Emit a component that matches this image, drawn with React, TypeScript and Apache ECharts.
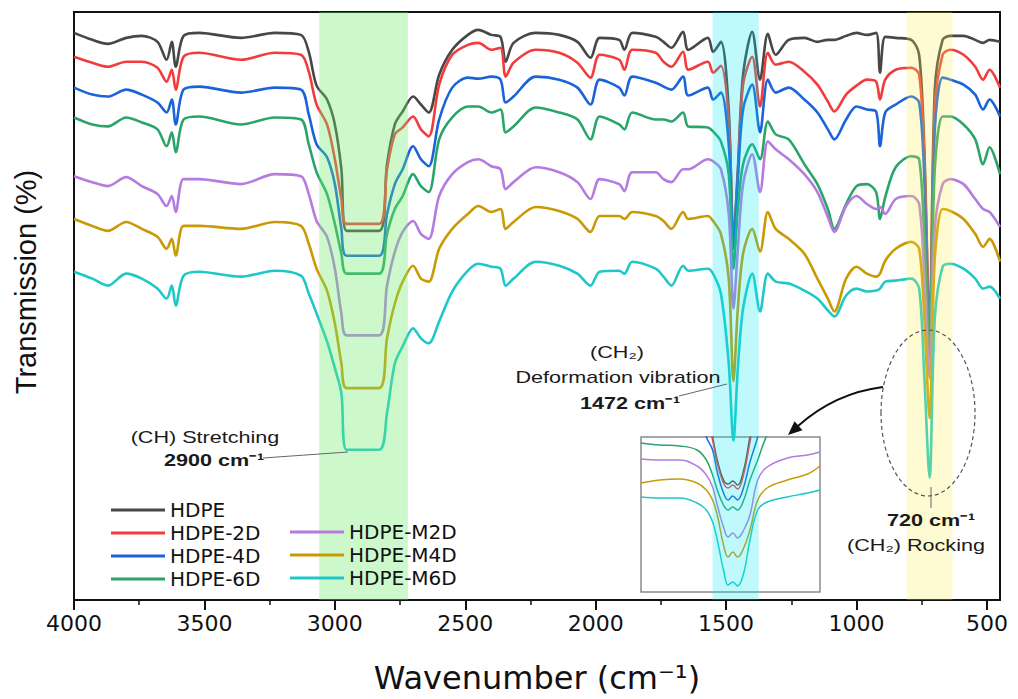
import React, { useEffect, useRef } from "react";
import * as echarts from "echarts";

// Wavenumber grid (cm-1) for the main spectra
const wavenumbers = [
  4000, 3930, 3870, 3800, 3740, 3680, 3645, 3625, 3610, 3580,
  3520, 3360, 3230, 3130, 3100, 3070, 3030, 3000, 2975, 2955,
  2830, 2800, 2770, 2740, 2700, 2670, 2640, 2600, 2550, 2490,
  2450, 2400, 2365, 2345, 2315, 2230, 2140, 2070, 2020, 1985,
  1910, 1890, 1860, 1770, 1740, 1710, 1665, 1645, 1570, 1550,
  1520, 1490, 1472, 1455, 1435, 1400, 1370, 1340, 1310, 1260,
  1200, 1150, 1110, 1085, 1040, 1000, 960, 925, 910, 890,
  850, 790, 760, 740, 720, 700, 670, 640, 590, 545,
  515, 490, 450,
];

// Transmission (arbitrary units, offset-stacked)
const hdpe = [
  570, 563, 559, 565, 567, 561, 543, 561, 536, 567,
  570, 565, 570, 568, 551, 517, 503, 478, 433, 371,
  371, 438, 478, 491, 506, 498, 490, 528, 553, 568,
  573, 568, 566, 541, 560, 570, 568, 561, 545, 565,
  563, 553, 570, 566, 561, 555, 571, 553, 565, 551,
  561, 493, 363, 433, 528, 571, 523, 569, 548, 563,
  565, 561, 563, 563, 567, 570, 568, 570, 530, 566,
  565, 563, 548, 453, 273, 513, 563, 567, 567, 563,
  560, 563, 561,
];
const hdpe2D = [
  546, 540, 536, 541, 541, 535, 521, 533, 513, 546,
  550, 543, 550, 548, 531, 498, 478, 443, 403, 378,
  378, 433, 468, 475, 486, 473, 466, 518, 548, 558,
  560, 553, 555, 526, 540, 553, 550, 540, 525, 548,
  543, 533, 553, 550, 541, 536, 551, 533, 541, 530,
  537, 483, 358, 428, 518, 546, 496, 550, 538, 541,
  531, 518, 501, 491, 508, 517, 523, 521, 503, 523,
  533, 535, 528, 443, 263, 493, 548, 553, 548, 536,
  523, 533, 515,
];
const hdpe4D = [
  515, 508, 506, 513, 508, 500, 490, 503, 478, 513,
  516, 510, 515, 513, 488, 458, 445, 418, 373, 346,
  346, 388, 418, 433, 456, 443, 436, 483, 515, 525,
  524, 526, 523, 500, 506, 526, 523, 515, 498, 523,
  515, 507, 526, 520, 516, 513, 526, 507, 515, 503,
  510, 458, 353, 423, 493, 518, 470, 523, 510, 515,
  503, 490, 473, 463, 483, 496, 493, 491, 456, 490,
  498, 506, 500, 423, 253, 473, 525, 523, 518, 508,
  493, 503, 486,
];
const hdpe6D = [
  485, 478, 476, 485, 480, 473, 456, 470, 450, 483,
  486, 478, 485, 483, 458, 430, 408, 378, 348, 328,
  328, 368, 393, 406, 428, 416, 410, 463, 485, 496,
  496, 490, 493, 470, 476, 495, 490, 483, 463, 486,
  478, 473, 490, 483, 483, 481, 490, 476, 475, 471,
  461, 428, 333, 393, 438, 458, 443, 481, 468, 463,
  438, 418, 393, 373, 398, 416, 418, 410, 383, 405,
  435, 446, 443, 363, 243, 433, 486, 486, 478, 463,
  438, 455, 428,
];
const hdpeM2D = [
  426, 420, 416, 425, 416, 408, 396, 406, 390, 423,
  423, 418, 428, 426, 408, 381, 365, 333, 288, 266,
  266, 316, 350, 370, 381, 368, 363, 406, 428, 440,
  443, 436, 433, 413, 420, 435, 430, 420, 403, 423,
  418, 411, 430, 430, 423, 420, 433, 433, 443, 441,
  433, 388, 293, 353, 418, 448, 410, 461, 453, 443,
  428, 410, 385, 370, 396, 406, 398, 393, 395, 388,
  403, 406, 398, 323, 223, 373, 418, 423, 418, 403,
  393, 390, 375,
];
const hdpeM4D = [
  383, 376, 371, 380, 373, 365, 353, 363, 346, 376,
  376, 373, 380, 376, 358, 333, 311, 278, 238, 213,
  213, 263, 298, 320, 336, 323, 320, 353, 373, 388,
  396, 390, 393, 373, 380, 395, 391, 383, 370, 386,
  386, 383, 390, 386, 381, 373, 390, 383, 386, 381,
  368, 323, 220, 293, 348, 373, 350, 390, 373, 363,
  348, 323, 303, 290, 323, 335, 328, 325, 328, 341,
  353, 360, 353, 283, 183, 343, 393, 391, 383, 368,
  355, 363, 340,
];
const hdpeM6D = [
  330, 323, 316, 328, 323, 313, 303, 316, 296, 326,
  330, 325, 331, 326, 308, 288, 260, 233, 208, 151,
  151, 188, 238, 255, 273, 263, 258, 280, 310, 331,
  338, 335, 333, 316, 323, 340, 336, 328, 316, 330,
  331, 328, 340, 333, 325, 316, 336, 331, 333, 328,
  308, 238, 160, 233, 293, 328, 290, 328, 320, 318,
  311, 303, 291, 285, 306, 313, 310, 311, 313, 320,
  321, 323, 313, 223, 123, 283, 335, 338, 333, 323,
  313, 315, 303,
];

// Inset: magnified 1472 cm-1 region
const insetWavenumbers = [1530, 1518, 1505, 1494, 1488, 1484, 1481, 1477, 1474, 1471, 1468, 1464, 1460, 1455, 1449, 1436, 1423, 1415];
const insetHdpe = [250, 250, 250, 200, 185, 155, 132, 112, 108, 111, 107, 122, 155, 192, 240, 250, 250, 250];
const insetHdpe2D = [245, 245, 245, 195, 180, 152, 129, 109, 104, 107, 103, 118, 150, 187, 235, 245, 245, 245];
const insetHdpe4D = [240, 240, 240, 185, 155, 142, 120, 99, 92, 96, 92, 105, 130, 155, 192, 240, 240, 240];
const insetHdpe6D = [149, 147, 146, 142, 132, 117, 102, 87, 82, 85, 82, 92, 112, 132, 157, 192, 212, 222];
const insetHdpeM2D = [133, 132, 132, 126, 117, 105, 87, 65, 55, 59, 54, 62, 77, 112, 125, 134, 137, 140];
const insetHdpeM4D = [109, 112, 113, 109, 102, 92, 77, 47, 35, 40, 35, 44, 62, 92, 104, 112, 118, 126];
const insetHdpeM6D = [95, 94, 94, 89, 82, 70, 52, 22, 7, 10, 6, 19, 52, 82, 90, 95, 99, 102];

const seriesNames = ["HDPE", "HDPE-2D", "HDPE-4D", "HDPE-6D", "HDPE-M2D", "HDPE-M4D", "HDPE-M6D"];
const seriesColors = ["#474747", "#f23c3c", "#1a63d8", "#2aa56a", "#b57be0", "#c99a06", "#1ec8c8"];
const mainValues = [hdpe, hdpe2D, hdpe4D, hdpe6D, hdpeM2D, hdpeM4D, hdpeM6D];
const insetValues = [insetHdpe, insetHdpe2D, insetHdpe4D, insetHdpe6D, insetHdpeM2D, insetHdpeM4D, insetHdpeM6D];

const legendCol1 = ["HDPE", "HDPE-2D", "HDPE-4D", "HDPE-6D"];
const legendCol2 = ["HDPE-M2D", "HDPE-M4D", "HDPE-M6D"];

const xTickValues = [4000, 3500, 3000, 2500, 2000, 1500, 1000, 500];

// Highlighted bands (cm-1)
const bandRanges = [
  [3060, 2720],
  [1552, 1375],
  [808, 632],
];
const bandColors = ["rgba(110,235,110,0.35)", "rgba(0,230,240,0.25)", "rgba(250,240,80,0.25)"];

const textFont = '"Liberation Sans", Arial, sans-serif';

function label(text: string, x: number, y: number, bold = false) {
  return {
    type: "text",
    x,
    y,
    scaleX: 1.27,
    z: 30,
    style: {
      text,
      font: `${bold ? "bold " : ""}17px ${textFont}`,
      fill: "#1a1a1a",
      textAlign: "center",
      textVerticalAlign: "middle",
      align: "center",
      verticalAlign: "middle",
    },
  };
}

function leader(x1: number, y1: number, x2: number, y2: number) {
  return {
    type: "line",
    z: 30,
    shape: { x1, y1, x2, y2 },
    style: { stroke: "#666", lineWidth: 1 },
  };
}

export default function App() {
  const ref = useRef<HTMLDivElement>(null);

  useEffect(() => {
    if (!ref.current) return;
    const chart = echarts.init(ref.current, null, { renderer: "svg" });

    const mainSeries = seriesNames.map((name, i) => ({
      name,
      type: "line",
      xAxisIndex: 0,
      yAxisIndex: 0,
      data: wavenumbers.map((w, k) => [w, mainValues[i][k]]),
      smooth: 0.3,
      symbol: "none",
      z: 2,
      lineStyle: { width: 2.6, color: seriesColors[i] },
      itemStyle: { color: seriesColors[i] },
    }));

    const insetSeries = seriesNames.map((name, i) => ({
      name,
      type: "line",
      xAxisIndex: 1,
      yAxisIndex: 1,
      data: insetWavenumbers.map((w, k) => [w, insetValues[i][k]]),
      smooth: 0.4,
      symbol: "none",
      z: 2,
      lineStyle: { width: 1.5, color: seriesColors[i] },
      itemStyle: { color: seriesColors[i] },
    }));

    const bandSeries = {
      name: "bands",
      type: "line",
      xAxisIndex: 0,
      yAxisIndex: 0,
      data: [],
      z: 10,
      silent: true,
      markArea: {
        silent: true,
        z: 10,
        data: bandRanges.map((r, i) => [
          { xAxis: r[0], itemStyle: { color: bandColors[i] } },
          { xAxis: r[1] },
        ]),
      },
    };

    const legendCommon = {
      orient: "vertical",
      padding: 0,
      itemGap: 3,
      itemWidth: 54,
      itemHeight: 3,
      icon: "rect",
      selectedMode: false,
      z: 20,
      textStyle: { fontFamily: "DejaVu Sans", fontSize: 20, color: "#111", lineHeight: 20 },
    };

    chart.setOption({
      animation: false,
      backgroundColor: "#fff",
      grid: [
        { left: 74, right: 18, top: 12, bottom: 96, show: true, borderColor: "#111", borderWidth: 2 },
        { left: 641, top: 437, width: 179, height: 155, show: true, borderColor: "#8a8a8a", borderWidth: 1.5 },
      ],
      legend: [
        { ...legendCommon, data: legendCol1, left: 111, top: 500 },
        { ...legendCommon, data: legendCol2, left: 290, top: 522 },
      ],
      xAxis: [
        {
          type: "value",
          gridIndex: 0,
          inverse: true,
          min: 450,
          max: 4000,
          splitNumber: 7,
          name: "Wavenumber (cm⁻¹)",
          nameLocation: "middle",
          nameGap: 62,
          nameTextStyle: { fontFamily: "DejaVu Sans", fontSize: 32, color: "#111" },
          axisLine: { show: true, lineStyle: { color: "#111", width: 2 } },
          axisTick: { show: true, length: 10, customValues: xTickValues, lineStyle: { color: "#111", width: 2 } },
          minorTick: { show: true, splitNumber: 2, length: 5, lineStyle: { color: "#111", width: 1.5 } },
          axisLabel: {
            customValues: xTickValues,
            margin: 12,
            fontFamily: "DejaVu Sans",
            fontSize: 22,
            color: "#111",
            formatter: (v: number) => String(v),
          },
          splitLine: { show: false },
          minorSplitLine: { show: false },
        },
        {
          type: "value",
          gridIndex: 1,
          inverse: true,
          min: 1415,
          max: 1530,
          show: false,
        },
      ],
      yAxis: [
        {
          type: "value",
          gridIndex: 0,
          min: 0,
          max: 591,
          name: "Transmission (%)",
          nameLocation: "middle",
          nameGap: 34,
          nameTextStyle: { fontFamily: textFont, fontSize: 29, color: "#111", padding: [0, 0, 0, 48] },
          axisLine: { show: true, lineStyle: { color: "#111", width: 2 } },
          axisTick: { show: false },
          axisLabel: { show: false },
          splitLine: { show: false },
        },
        { type: "value", gridIndex: 1, min: 0, max: 155, show: false },
      ],
      series: [...mainSeries, ...insetSeries, bandSeries],
      graphic: [
        {
          type: "ellipse",
          z: 30,
          shape: { cx: 928, cy: 413, rx: 47, ry: 83 },
          style: { fill: "none", stroke: "#555", lineWidth: 1.2, lineDash: [4, 3] },
        },
        {
          type: "bezierCurve",
          z: 30,
          shape: { x1: 883, y1: 387, cpx1: 835, cpy1: 393, x2: 798, y2: 426 },
          style: { stroke: "#111", lineWidth: 2, fill: "none" },
        },
        {
          type: "polygon",
          z: 30,
          shape: { points: [[788, 435], [802.5, 430.3], [794.5, 421.3]] },
          style: { fill: "#111" },
        },
        leader(263, 458, 348, 452),
        leader(679, 396, 727, 384),
        leader(931, 487, 931, 508),
        label("(CH) Stretching", 205, 437),
        label("2900 cm⁻¹", 214, 460, true),
        label("(CH₂)", 617, 352),
        label("Deformation vibration", 618, 377),
        label("1472 cm⁻¹", 630, 403, true),
        label("720 cm⁻¹", 931, 520, true),
        label("(CH₂) Rocking", 916, 545),
      ],
    });

    return () => chart.dispose();
  }, []);

  return (
    <div
      ref={ref}
      style={{ position: "fixed", left: 0, top: 0, width: 1018, height: 699, background: "#fff" }}
    />
  );
}
